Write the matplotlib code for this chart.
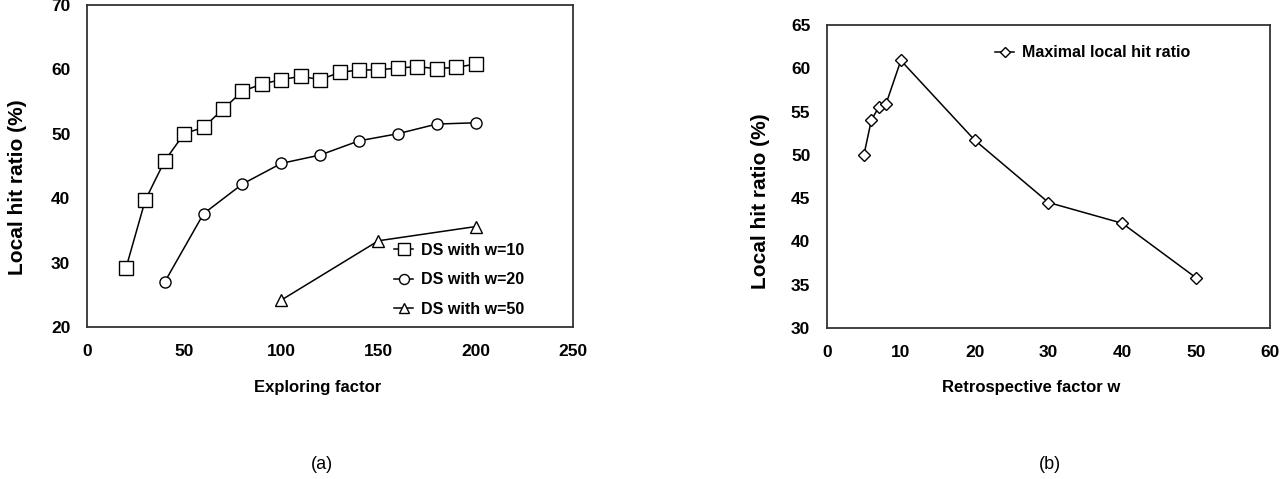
import matplotlib
matplotlib.use("Agg")
import matplotlib.pyplot as plt

# panel (a): local hit ratio vs exploring factor
w10_x = [20, 30, 40, 50, 60, 70, 80, 90, 100, 110, 120, 130, 140, 150, 160, 170, 180, 190, 200]
w10_y = [29.1, 39.7, 45.8, 50.0, 51.0, 53.8, 56.6, 57.7, 58.4, 58.9, 58.4, 59.5, 59.9, 59.9, 60.2, 60.4, 60.1, 60.3, 60.8]
w20_x = [40, 60, 80, 100, 120, 140, 160, 180, 200]
w20_y = [27.0, 37.6, 42.2, 45.4, 46.7, 48.9, 50.0, 51.5, 51.7]
w50_x = [100, 150, 200]
w50_y = [24.2, 33.4, 35.6]

# panel (b): maximal local hit ratio vs retrospective factor
retro_w = [5, 6, 7, 8, 10, 20, 30, 40, 50]
max_hit = [50.0, 54.0, 55.5, 55.9, 60.9, 51.7, 44.5, 42.1, 35.8]

FONT = ["Liberation Sans", "DejaVu Sans"]

fig = plt.figure(figsize=(12.85, 4.79), dpi=100)
ax_a = fig.add_axes([0.0677, 0.317, 0.378, 0.673])
ax_b = fig.add_axes([0.6436, 0.315, 0.3447, 0.633])

mk = dict(color="black", lw=1.1, mfc="white", mec="black", mew=1.0)
ax_a.plot(w10_x, w10_y, marker="s", ms=10, label="DS with w=10", **mk)
ax_a.plot(w20_x, w20_y, marker="o", ms=8, label="DS with w=20", **mk)
ax_a.plot(w50_x, w50_y, marker="^", ms=8, label="DS with w=50", **mk)
ax_b.plot(retro_w, max_hit, marker="D", ms=6, label="Maximal local hit ratio", **mk)

ax_a.set_xlim(0, 250)
ax_a.set_ylim(20, 70)
ax_a.set_xticks(range(0, 251, 50))
ax_a.set_yticks(range(20, 71, 10))
ax_b.set_xlim(0, 60)
ax_b.set_ylim(30, 65)
ax_b.set_xticks(range(0, 61, 10))
ax_b.set_yticks(range(30, 66, 5))

for ax in (ax_a, ax_b):
    ax.tick_params(length=0, pad=12)
    for lab in ax.get_xticklabels() + ax.get_yticklabels():
        lab.set_family(FONT)
        lab.set_fontweight("bold")
        lab.set_fontsize(12.5)
    for sp in ax.spines.values():
        sp.set_linewidth(1.3)
        sp.set_color("#333333")
    ax.set_ylabel("Local hit ratio (%)", family=FONT, fontweight="bold", fontsize=15)

ax_a.set_xlabel("Exploring factor", family=FONT, fontweight="bold", fontsize=12)
ax_b.set_xlabel("Retrospective factor w", family=FONT, fontweight="bold", fontsize=12)

# label placement (axes fractions) to match the original layout
ax_a.yaxis.set_label_coords(-0.124, 0.435)
ax_b.yaxis.set_label_coords(-0.128, 0.42)
ax_a.xaxis.set_label_coords(0.475, -0.165)
ax_b.xaxis.set_label_coords(0.46, -0.17)

ax_a.legend(loc="lower right", frameon=False, prop={"family": FONT, "weight": "bold", "size": 11.5},
            handlelength=1.2, handletextpad=0.5, labelspacing=0.9, bbox_to_anchor=(0.93, -0.012),
            markerscale=0.9)
ax_b.legend(loc="upper center", frameon=False, prop={"family": FONT, "weight": "bold", "size": 11.5},
            handlelength=1.2, handletextpad=0.5, bbox_to_anchor=(0.6, 0.98), markerscale=0.9)

fig.text(0.2506, 0.03, "(a)", ha="center", va="center", fontsize=13, family=FONT)
fig.text(0.817, 0.03, "(b)", ha="center", va="center", fontsize=13, family=FONT)

fig.savefig("out.png", dpi=100)
